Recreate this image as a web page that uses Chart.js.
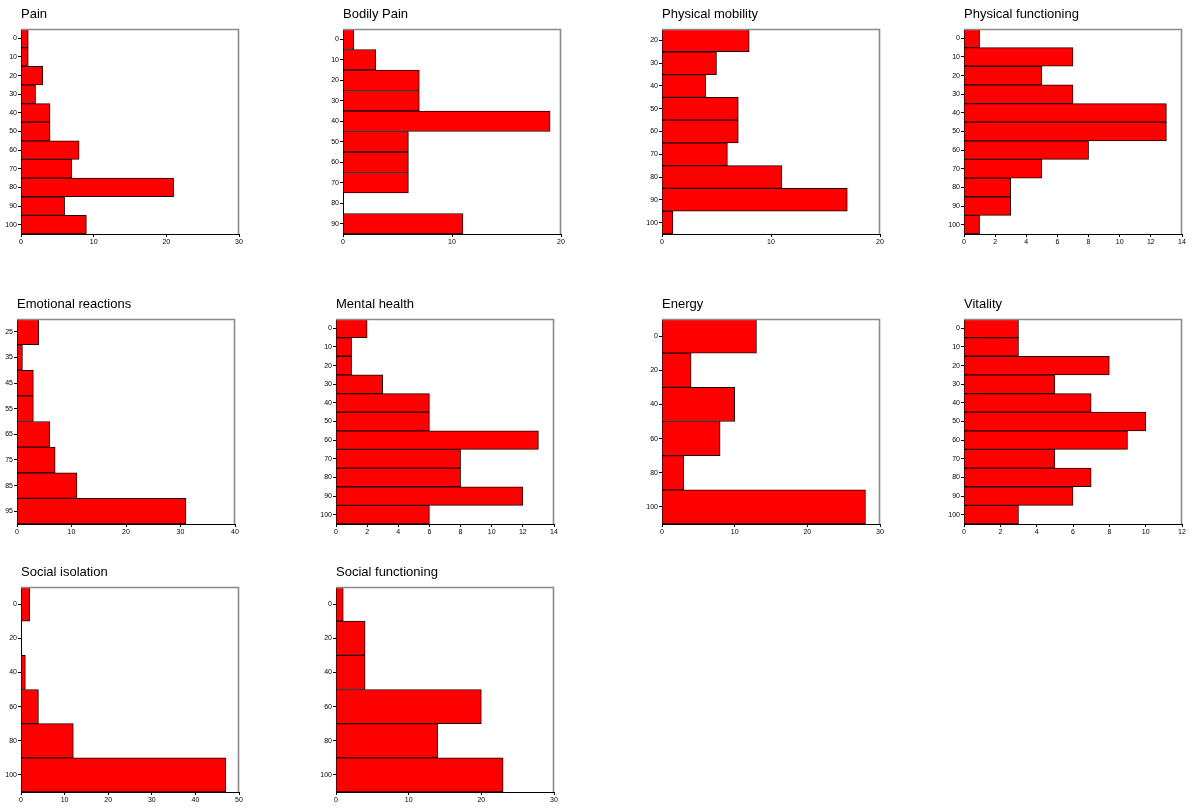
<!DOCTYPE html>
<html>
<head>
<meta charset="utf-8">
<script src="https://cdn.jsdelivr.net/npm/chart.js@4/dist/chart.umd.min.js"></script>
<style>
  html, body { margin: 0; padding: 0; background: #fff; }
  body { width: 1196px; height: 811px; position: relative; overflow: hidden; }
  .panel { position: absolute; }
</style>
</head>
<body>
<script>
// ---- Data (bin midpoints and counts) ----
const painBins = ['0','10','20','30','40','50','60','70','80','90','100'];
const painCounts = [1, 1, 3, 2, 4, 4, 8, 7, 21, 6, 9];

const bodilyPainBins = ['0','10','20','30','40','50','60','70','80','90'];
const bodilyPainCounts = [1, 3, 7, 7, 19, 6, 6, 6, 0, 11];

const mobilityBins = ['20','30','40','50','60','70','80','90','100'];
const mobilityCounts = [8, 5, 4, 7, 7, 6, 11, 17, 1];

const physFuncBins = ['0','10','20','30','40','50','60','70','80','90','100'];
const physFuncCounts = [1, 7, 5, 7, 13, 13, 8, 5, 3, 3, 1];

const emotionalBins = ['25','35','45','55','65','75','85','95'];
const emotionalCounts = [4, 1, 3, 3, 6, 7, 11, 31];

const mentalBins = ['0','10','20','30','40','50','60','70','80','90','100'];
const mentalCounts = [2, 1, 1, 3, 6, 6, 13, 8, 8, 12, 6];

const energyBins = ['0','20','40','60','80','100'];
const energyCounts = [13, 4, 10, 8, 3, 28];

const vitalityBins = ['0','10','20','30','40','50','60','70','80','90','100'];
const vitalityCounts = [3, 3, 8, 5, 7, 10, 9, 5, 7, 6, 3];

const isolationBins = ['0','20','40','60','80','100'];
const isolationCounts = [2, 0, 1, 4, 12, 47];

const socialFuncBins = ['0','20','40','60','80','100'];
const socialFuncCounts = [1, 4, 4, 20, 14, 23];

const panelTitles = ['Pain','Bodily Pain','Physical mobility','Physical functioning',
  'Emotional reactions','Mental health','Energy','Vitality',
  'Social isolation','Social functioning'];
const panelBins = [painBins, bodilyPainBins, mobilityBins, physFuncBins,
  emotionalBins, mentalBins, energyBins, vitalityBins, isolationBins, socialFuncBins];
const panelCounts = [painCounts, bodilyPainCounts, mobilityCounts, physFuncCounts,
  emotionalCounts, mentalCounts, energyCounts, vitalityCounts, isolationCounts, socialFuncCounts];
const axisMax = [30, 20, 20, 14, 40, 14, 30, 12, 50, 30];
const axisStep = [10, 10, 10, 2, 10, 2, 10, 2, 10, 10];

// ---- Layout (plot-area positions) ----
const plotLeft = [21, 343, 662, 964, 17, 336, 662, 964, 21, 336];
const plotTop  = [29, 29, 29, 29, 319, 319, 319, 319, 587, 587];
const plotW = 218, plotH = 205;
const Y_AXIS_W = 30, X_AXIS_H = 16, TITLE_H = 29, RIGHT_PAD = 12;

const framePlugin = {
  id: 'frame',
  afterDraw(chart) {
    const a = chart.chartArea, ctx = chart.ctx;
    ctx.save();
    ctx.strokeStyle = '#8a8a8a';
    ctx.lineWidth = 1.6;
    ctx.beginPath();
    ctx.moveTo(a.left, a.top + 0.5);
    ctx.lineTo(a.right - 0.5, a.top + 0.5);
    ctx.lineTo(a.right - 0.5, a.bottom);
    ctx.stroke();
    ctx.restore();
  }
};

for (let i = 0; i < panelTitles.length; i++) {
  const w = Y_AXIS_W + plotW + RIGHT_PAD;
  const h = TITLE_H + plotH + X_AXIS_H;
  const div = document.createElement('div');
  div.className = 'panel';
  div.style.left = (plotLeft[i] - Y_AXIS_W) + 'px';
  div.style.top = (plotTop[i] - TITLE_H) + 'px';
  div.style.width = w + 'px';
  div.style.height = h + 'px';
  const cv = document.createElement('canvas');
  cv.width = w; cv.height = h;
  div.appendChild(cv);
  document.body.appendChild(div);

  new Chart(cv, {
    type: 'bar',
    data: {
      labels: panelBins[i],
      datasets: [{
        data: panelCounts[i],
        backgroundColor: '#ff0000',
        borderColor: '#1e0000',
        borderWidth: 1,
        borderSkipped: 'start',
        barPercentage: 1,
        categoryPercentage: 1
      }]
    },
    options: {
      indexAxis: 'y',
      responsive: false,
      animation: false,
      layout: { padding: { left: 0, right: RIGHT_PAD, top: 0, bottom: 0 } },
      plugins: {
        legend: { display: false },
        tooltip: { enabled: false },
        title: {
          display: true,
          text: panelTitles[i],
          align: 'start',
          fullSize: false,
          color: '#000',
          font: { family: 'Liberation Sans, Arial, sans-serif', size: 13, weight: 'normal', lineHeight: 1.2 },
          padding: { top: 7, bottom: 6.4 }
        }
      },
      scales: {
        x: {
          type: 'linear',
          min: 0,
          max: axisMax[i],
          ticks: {
            stepSize: axisStep[i],
            color: '#000',
            padding: 1,
            maxRotation: 0,
            font: { family: 'Liberation Sans, Arial, sans-serif', size: 7 }
          },
          grid: { display: true, drawOnChartArea: false, tickLength: 3, color: '#000', lineWidth: 1 },
          border: { display: true, color: '#000', width: 1 },
          afterFit(scale) { scale.height = X_AXIS_H; }
        },
        y: {
          type: 'category',
          offset: true,
          ticks: {
            color: '#000',
            padding: 1,
            autoSkip: false,
            font: { family: 'Liberation Sans, Arial, sans-serif', size: 7 }
          },
          grid: { display: true, offset: false, drawOnChartArea: false, tickLength: 3, color: '#000', lineWidth: 1 },
          border: { display: true, color: '#000', width: 1 },
          afterFit(scale) { scale.width = Y_AXIS_W; }
        }
      }
    },
    plugins: [framePlugin]
  });
}
</script>
</body>
</html>
